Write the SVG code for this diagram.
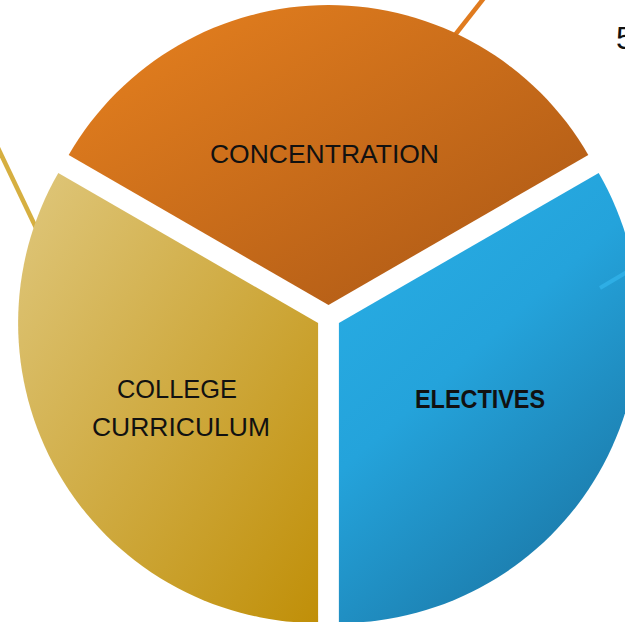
<svg xmlns="http://www.w3.org/2000/svg" width="625" height="622" viewBox="0 0 625 622">
  <defs>
    <linearGradient id="gOrange" x1="0" y1="0" x2="1" y2="1">
      <stop offset="0" stop-color="#e8821f"/>
      <stop offset="1" stop-color="#a95615"/>
    </linearGradient>
    <linearGradient id="gGold" x1="0" y1="0" x2="1" y2="1">
      <stop offset="0" stop-color="#dfc77c"/>
      <stop offset="1" stop-color="#c08f08"/>
    </linearGradient>
    <linearGradient id="gBlue" x1="0.2" y1="0" x2="0.8" y2="1">
      <stop offset="0" stop-color="#28ade4"/>
      <stop offset="0.4" stop-color="#24a3db"/>
      <stop offset="1" stop-color="#1a72a0"/>
    </linearGradient>
  </defs>
  <style>
    .lbl { font-family: "Liberation Sans", Arial, sans-serif; font-size: 26px; fill: #111; text-anchor: middle; }
    .bold { font-weight: bold; }
    .leader { fill: none; stroke-width: 4.5; }
  </style>

  <g id="connectors">
    <line class="leader" x1="455" y1="35" x2="484" y2="-2" stroke="#e07b1f"/>
    <line class="leader" x1="-2" y1="148" x2="38" y2="232" stroke="#d6af40"/>
  </g>

  <g id="concentration">
    <path d="M328.5,305 L68.7,155 A300,300 0 0 1 588.3,155 Z" fill="url(#gOrange)"/>
    <text class="lbl" x="324.5" y="163" textLength="229" lengthAdjust="spacingAndGlyphs">CONCENTRATION</text>
  </g>

  <g id="electives">
    <path d="M338.9,323 L598.7,173 A300,300 0 0 1 338.9,623 Z" fill="url(#gBlue)"/>
    <line x1="600" y1="288" x2="627" y2="272" stroke="#2eaee5" stroke-width="4"/>
    <text class="lbl bold" x="480" y="408" textLength="130" lengthAdjust="spacingAndGlyphs">ELECTIVES</text>
  </g>

  <g id="college-curriculum">
    <path d="M318.1,323 L318.1,623 A300,300 0 0 1 58.3,173 Z" fill="url(#gGold)"/>
    <text class="lbl" x="177" y="398" textLength="120" lengthAdjust="spacingAndGlyphs">COLLEGE</text>
    <text class="lbl" x="181" y="436" textLength="178" lengthAdjust="spacingAndGlyphs">CURRICULUM</text>
  </g>

  <g id="page-number">
    <text x="616" y="49" style="font-family: 'Liberation Sans', Arial, sans-serif; font-size: 32px; fill: #111;">5</text>
  </g>
</svg>
